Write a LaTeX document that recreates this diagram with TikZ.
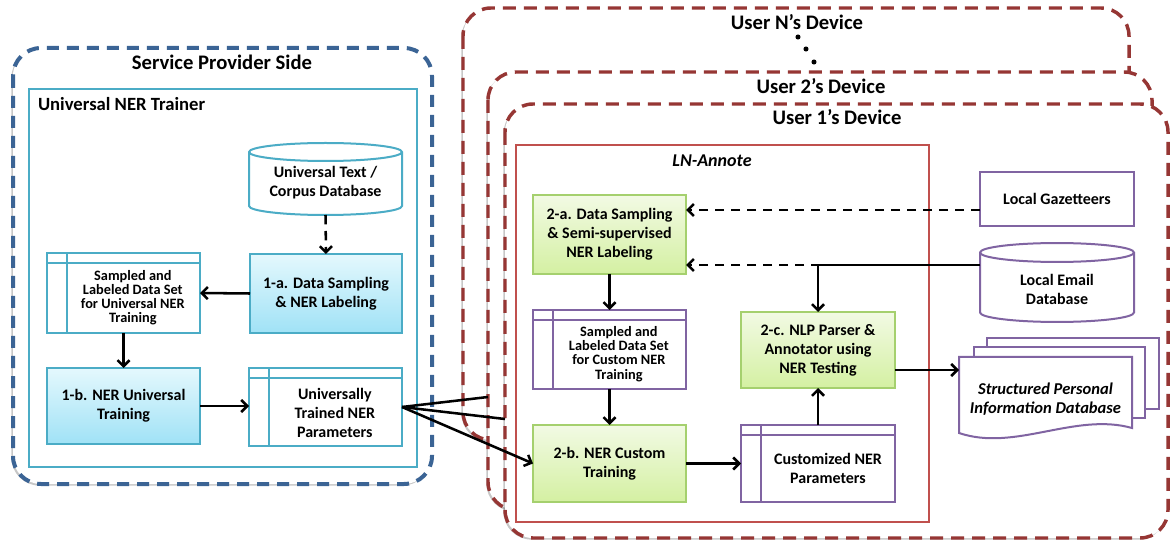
\documentclass[tikz,border=0pt]{standalone}
\usepackage{fontspec}
\setmainfont{Carlito}
\usetikzlibrary{arrows.meta,shadows}
\definecolor{bluedash}{RGB}{59,100,149}
\definecolor{reddash}{RGB}{150,54,52}
\definecolor{tealc}{RGB}{75,172,198}
\definecolor{redln}{RGB}{192,80,77}
\definecolor{purp}{RGB}{128,100,162}
\definecolor{greenb}{RGB}{165,208,110}
\definecolor{bluetop}{RGB}{228,248,253}
\definecolor{bluebot}{RGB}{160,226,246}
\definecolor{greentop}{RGB}{242,250,228}
\definecolor{greenbot}{RGB}{212,240,162}
\newcommand\cylshape[4]{%
  \draw[#2, line width=1.5pt, fill=white] (#1.north west) -- (#1.south west)
    arc[start angle=180,end angle=360,x radius=#3,y radius=#4] -- (#1.north east)
    arc[start angle=0,end angle=180,x radius=#3,y radius=#4] -- cycle;
  \draw[#2, line width=1.5pt] (#1.north west)
    arc[start angle=180,end angle=360,x radius=#3,y radius=#4];
}
\begin{document}
\begin{tikzpicture}[x=0.75pt,y=-0.75pt,
  every node/.style={inner sep=0pt, outer sep=0pt},
  sideshadow/.style={drop shadow={shadow xshift=-1.2pt,shadow yshift=-1.2pt,opacity=0.22,fill=black}},
  spbox/.style={draw=bluedash, line width=3pt, dash pattern=on 9pt off 6pt, rounded corners=21pt, fill=white, sideshadow},
  devbox/.style={draw=reddash, line width=2.6pt, dash pattern=on 9.75pt off 6pt, rounded corners=21pt, fill=white, sideshadow},
  ttl/.style={font=\fontsize{15.5}{18}\selectfont\bfseries},
  btxt/.style={font=\fontsize{12}{14.25}\selectfont\bfseries, align=center},
  stxt/.style={font=\fontsize{10.75}{10.6}\selectfont\bfseries, align=center},
  proc/.style={line width=1.2pt, align=center, font=\fontsize{12}{14.25}\selectfont\bfseries,
    drop shadow={shadow xshift=1pt,shadow yshift=-1pt,opacity=0.2,fill=black}},
  blueproc/.style={proc, draw=tealc, top color=bluetop, bottom color=bluebot},
  greenproc/.style={proc, draw=greenb, top color=greentop, bottom color=greenbot},
  store/.style={draw=#1, line width=1.5pt, fill=white,
    path picture={\draw[#1, line width=1.5pt]
      ([yshift=-7.5pt]path picture bounding box.north west) -- ([yshift=-7.5pt]path picture bounding box.north east)
      ([xshift=15pt]path picture bounding box.north west) -- ([xshift=15pt]path picture bounding box.south west);}},
  plainbox/.style={draw=#1, line width=1.5pt, fill=white, align=center, font=\fontsize{12}{14.25}\selectfont\bfseries},
  arr/.style={line width=1.9pt, -{Straight Barb[length=4.5pt,width=9pt]}},
  darr/.style={arr, dash pattern=on 7pt off 5pt},
  conn/.style={line width=1.9pt},
]
\useasboundingbox (0,0) rectangle (1170,541);

% ---------- containers ----------
\draw[devbox] (463,8) rectangle (1129,440);
\draw[devbox] (488,72) rectangle (1152,510);
\draw[devbox] (505,104) rectangle (1168,538);
\draw[spbox] (13,48) rectangle (432,484);
\draw[tealc, line width=1.9pt] (29,89) rectangle (417,467);
\draw[redln, line width=1.5pt] (516,145) rectangle (929,522);

% ---------- titles ----------
\node[ttl] (tsp) at (222,62) {Service Provider Side};
\node[font=\fontsize{14}{16}\selectfont\bfseries, anchor=west] (tun) at (38,104) {Universal NER Trainer};
\node[ttl] (tuN) at (797,22) {User N’s Device};
\node[ttl] (tu2) at (821,86) {User 2’s Device};
\node[ttl] (tu1) at (837,117) {User 1’s Device};
\node[font=\fontsize{13.5}{16}\selectfont\bfseries\itshape] (tln) at (712,161) {LN-Annote};
\fill (798,37) circle[radius=1.9pt];
\fill (806,49) circle[radius=1.9pt];
\fill (814,62) circle[radius=1.9pt];

% ---------- service provider side ----------
\node[minimum width=114.75pt, minimum height=40.5pt] (ucorp) at (325.5,179) {};
\cylshape{ucorp}{tealc}{57.375pt}{6.75pt}
\node[btxt] (ucorpt) at ([yshift=-2.5pt]ucorp.center) {Universal Text /\\Corpus Database};

\node[blueproc, minimum width=114pt, minimum height=59.25pt] (n1a) at (326,293.5) {1-a. Data Sampling\\\& NER Labeling};
\node[store=tealc, minimum width=114.75pt, minimum height=60pt] (sdu) at (123.5,293) {};
\node[stxt] (sdut) at ([xshift=7pt,yshift=-3.4pt]sdu.center) {Sampled and\\Labeled Data Set\\for Universal NER\\Training};
\node[blueproc, minimum width=114.75pt, minimum height=57pt] (n1b) at (123.5,406) {1-b. NER Universal\\Training};
\node[store=tealc, minimum width=114.75pt, minimum height=58.5pt] (up) at (325.5,407) {};
\node[btxt] (upt) at ([xshift=7pt,yshift=-4.5pt]up.center) {Universally\\Trained NER\\Parameters};

% ---------- user device ----------
\node[greenproc, minimum width=114.75pt, minimum height=59.25pt] (n2a) at (609.5,234.5) {2-a. Data Sampling\\\& Semi-supervised\\NER Labeling};
\node[store=purp, minimum width=114.75pt, minimum height=59.25pt] (sdc) at (609.5,349.5) {};
\node[stxt] (sdct) at ([xshift=7pt,yshift=-3.4pt]sdc.center) {Sampled and\\Labeled Data Set\\for Custom NER\\Training};
\node[greenproc, minimum width=114.75pt, minimum height=57.75pt] (n2b) at (609.5,463.5) {2-b. NER Custom\\Training};
\node[store=purp, minimum width=115.5pt, minimum height=57.75pt] (cp) at (818,463.5) {};
\node[btxt] (cpt) at ([xshift=7.5pt,yshift=-4pt]cp.center) {Customized NER\\Parameters};
\node[greenproc, minimum width=115.5pt, minimum height=57pt] (n2c) at (818,350) {2-c. NLP Parser \&\\Annotator using\\NER Testing};

\node[plainbox=purp, minimum width=115.5pt, minimum height=40.5pt] (gaz) at (1057,199) {Local Gazetteers};
\node[minimum width=115.5pt, minimum height=45pt] (email) at (1057,282.5) {};
\cylshape{email}{purp}{57.75pt}{7.1pt}
\node[btxt] (emailt) at ([yshift=-5pt]email.center) {Local Email\\Database};

\draw[purp, line width=1.5pt, fill=white] (987,338) rectangle (1159,409);
\draw[purp, line width=1.5pt, fill=white] (974,347) rectangle (1145,418);
\draw[purp, line width=1.5pt, fill=white] (959,357) -- (1132,357) -- (1132,428)
  .. controls (1075,412) and (1015,452) .. (959,433) -- cycle;
\node[minimum width=129.75pt, minimum height=62.25pt, align=center,
  font=\fontsize{12.4}{14.25}\selectfont\bfseries\itshape] (spid) at (1045.5,399)
  {Structured Personal\\Information Database};

% ---------- connectors ----------
\draw[darr] ([yshift=-6.75pt]ucorp.south) -- (n1a.north);
\draw[arr] (n1a.west) -- (sdu.east);
\draw[arr] (sdu.south) -- (n1b.north);
\draw[arr] (n1b.east) -- (up.west |- n1b.east);

\coordinate (u2edge) at (488,397);
\coordinate (u1edge) at (505,419);
\draw[conn] (up.east) -- (u2edge);
\draw[conn] (up.east) -- (u1edge);
\draw[arr] (up.east) -- (n2b.west);

\draw[arr] (n2a.south) -- (sdc.north);
\draw[arr] (sdc.south) -- (n2b.north);
\draw[arr] (n2b.east) -- (cp.west);
\draw[arr] (cp.north) -- (n2c.south);
\coordinate (p2c) at ([yshift=-15pt]n2c.east);
\draw[arr] (p2c) -- (spid.west |- p2c);
\coordinate (a2up) at ([yshift=-11.25pt]n2a.north east);
\coordinate (a2lo) at ([yshift=6.75pt]n2a.south east);
\draw[darr] (gaz.west |- a2up) -- (a2up);
\draw[darr] (email.west |- a2lo) -- (a2lo);
\draw[arr] (email.west |- a2lo) -| (n2c.north);
\end{tikzpicture}
\end{document}
